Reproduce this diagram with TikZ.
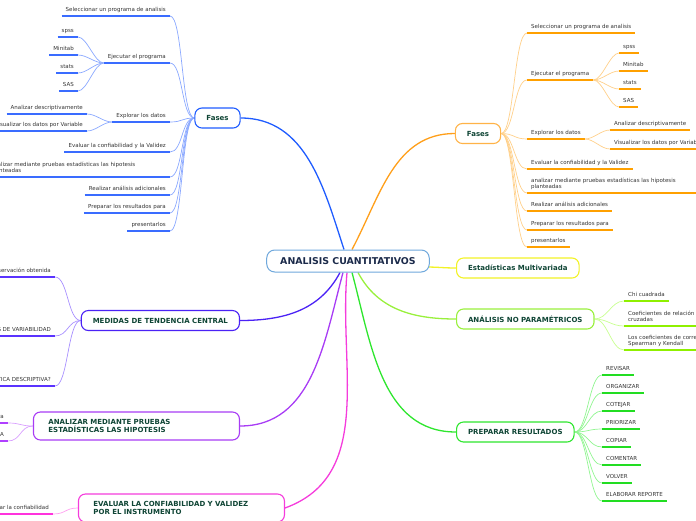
\documentclass[tikz,border=0pt]{standalone}
\usepackage{fontspec}
\setmainfont{DejaVu Sans}
\usetikzlibrary{backgrounds}

\definecolor{rootline}{HTML}{6FA8DC}
\definecolor{roottext}{HTML}{1B2A4A}
\definecolor{topictext}{HTML}{0F4535}
\definecolor{leaftext}{HTML}{333333}
\definecolor{blueA}{HTML}{1F5CFF}
\definecolor{blueB}{HTML}{3A6CFF}
\definecolor{blueC}{HTML}{8AA8FF}
\definecolor{orangeA}{HTML}{FF9F1A}
\definecolor{orangeB}{HTML}{FFA000}
\definecolor{orangeD}{HTML}{FFB347}
\definecolor{orangeC}{HTML}{FFD08A}
\definecolor{yellowA}{HTML}{F2F226}
\definecolor{limeA}{HTML}{99F03C}
\definecolor{limeB}{HTML}{8FF000}
\definecolor{limeC}{HTML}{C8FF90}
\definecolor{greenA}{HTML}{2EE62E}
\definecolor{greenB}{HTML}{22DD22}
\definecolor{greenC}{HTML}{90F590}
\definecolor{violetA}{HTML}{4B22F5}
\definecolor{violetB}{HTML}{5A33FF}
\definecolor{violetC}{HTML}{A890FF}
\definecolor{purpleA}{HTML}{A83CF5}
\definecolor{purpleB}{HTML}{B040FF}
\definecolor{purpleC}{HTML}{D9A0FF}
\definecolor{magentaA}{HTML}{F53CDC}
\definecolor{magentaB}{HTML}{FF33DD}
\definecolor{magentaC}{HTML}{FFA0F0}

\def\leaffont{\fontsize{5.5}{6.5}\selectfont}
\def\topicfont{\fontsize{7}{8.5}\selectfont\bfseries}
\def\rootfont{\fontsize{9.4}{11}\selectfont\bfseries}

\tikzset{
  root/.style={draw=rootline, line width=1pt, rounded corners=8pt, fill=white,
    font=\rootfont, text=roottext, inner xsep=13.5pt, minimum height=22pt},
  topic/.style={draw=#1, line width=1.1pt, rounded corners=7pt, fill=white,
    font=\topicfont, text=topictext, inner xsep=11.5pt, minimum height=20pt},
  widetopic/.style={topic=#1, text width=176pt, align=left, inner xsep=15pt, minimum height=28pt},
  leaf/.style={font=\leaffont, text=leaftext, inner xsep=4pt, inner ysep=2.6pt,
    text height=4.2pt, text depth=1.4pt,
    append after command={(\tikzlastnode.south west) edge[line width=1.4pt, draw=#1] (\tikzlastnode.south east)}},
  wideleaf/.style={leaf=#1, text width=175pt, align=left, text depth=7.9pt},
  branch/.style={line width=1.3pt, draw=#1},
  twig/.style={line width=0.7pt, draw=#1},
}

\begin{document}
\begin{tikzpicture}[x=1pt,y=-1pt]
  \useasboundingbox (0,0) rectangle (696,520);
  % centre and main topics
  \node[root] (root) at (348,261) {ANALISIS CUANTITATIVOS};
  \node[topic=blueA] (fasesL) at (217.5,118) {Fases};
  \node[topic=orangeD] (fasesR) at (478,133.5) {Fases};
  \node[topic=yellowA, anchor=west] (multi) at (456,268) {Estadísticas Multivariada};
  \node[topic=limeA, anchor=west] (noparam) at (456,319) {ANÁLISIS NO PARAMÉTRICOS};
  \node[topic=greenA, anchor=west] (prep) at (456,432) {PREPARAR RESULTADOS};
  \node[topic=violetA, anchor=east] (medidas) at (240,320.5) {MEDIDAS DE TENDENCIA CENTRAL};
  \node[widetopic=purpleA, anchor=east] (hipo) at (240,426) {ANALIZAR MEDIANTE PRUEBAS\\ESTADÍSTICAS LAS HIPOTESIS};
  \node[widetopic=magentaA, anchor=east] (conf) at (285,508) {EVALUAR LA CONFIABILIDAD Y VALIDEZ\\POR EL INSTRUMENTO};

  % fases, left side
  \foreach \n/\y/\t in {1/16/Seleccionar un programa de analisis, 2/63/Ejecutar el programa,
      3/122/Explorar los datos, 4/152/Evaluar la confiabilidad y la Validez,
      6/195/Realizar análisis adicionales, 7/213/Preparar los resultados para, 8/231/presentarlos}
    \node[leaf=blueB, anchor=south east] (bl\n) at (170,\y) {\t};
  \node[wideleaf=blueB, anchor=south east] (bl5) at (170,177) {analizar mediante pruebas estadísticas las hipotesis\\planteadas};
  \foreach \n/\y/\t in {1/37/spss, 2/55/Minitab, 3/73/stats, 4/91/SAS}
    \node[leaf=blueB, anchor=south east] (blp\n) at (78,\y) {\t};
  \node[leaf=blueB, anchor=south east] (ble1) at (87,114) {Analizar descriptivamente};
  \node[leaf=blueB, anchor=south east] (ble2) at (87,131) {Visualizar los datos por Variable};

  % fases, right side
  \foreach \n/\y/\t in {1/33/Seleccionar un programa de analisis, 2/80/Ejecutar el programa,
      3/139/Explorar los datos, 4/169/Evaluar la confiabilidad y la Validez,
      6/211/Realizar análisis adicionales, 7/230/Preparar los resultados para, 8/247/presentarlos}
    \node[leaf=orangeB, anchor=south west] (or\n) at (527,\y) {\t};
  \node[wideleaf=orangeB, anchor=south west] (or5) at (527,193) {analizar mediante pruebas estadísticas las hipotesis\\planteadas};
  \foreach \n/\y/\t in {1/53/spss, 2/71/Minitab, 3/89/stats, 4/107/SAS}
    \node[leaf=orangeB, anchor=south west] (orp\n) at (619,\y) {\t};
  \node[leaf=orangeB, anchor=south west] (ore1) at (610,130) {Analizar descriptivamente};
  \node[leaf=orangeB, anchor=south west] (ore2) at (610,149) {Visualizar los datos por Variable};

  % no parametricos
  \node[leaf=limeB, anchor=south west] (np1) at (624,301) {Chi cuadrada};
  \node[wideleaf=limeB, anchor=south west] (np2) at (624,326) {Coeficientes de relación -\\cruzadas};
  \node[wideleaf=limeB, anchor=south west] (np3) at (624,350) {Los coeficientes de correlación de\\Spearman y Kendall};

  % preparar resultados
  \foreach \n/\y/\t in {1/375/REVISAR, 2/393/ORGANIZAR, 3/411/COTEJAR, 4/429/PRIORIZAR,
      5/447/COPIAR, 6/465/COMENTAR, 7/483/VOLVER, 8/501/ELABORAR REPORTE}
    \node[leaf=greenB, anchor=south west] (pr\n) at (602,\y) {\t};

  % left topics
  \foreach \n/\y/\t in {1/277/observación obtenida, 2/336/MEDIDAS DE VARIABILIDAD,
      3/386/¿QUÉ ES LA ESTADÍSTICA DESCRIPTIVA?}
    \node[leaf=violetB, anchor=south east] (md\n) at (55,\y) {\t};
  \node[leaf=purpleB, anchor=south east] (hp1) at (8,423) {muestra};
  \node[leaf=purpleB, anchor=south east] (hp2) at (8,441) {PRUEBA PARAMÉTRICA};
  \node[leaf=magentaB, anchor=south east] (cf1) at (53,514) {Evaluar la confiabilidad};

  \begin{scope}[on background layer]
    % main branches
    \draw[branch=blueA] ([xshift=-4pt]root.north) to[out=108,in=0] (fasesL.east);
    \draw[branch=orangeA] ([xshift=4pt]root.north) to[out=62,in=180] (fasesR.west);
    \draw[branch=yellowA] ([xshift=-4pt,yshift=-6pt]root.east) to[out=0,in=180] (multi.west);
    \draw[branch=limeA] ([xshift=10pt]root.south) to[out=-62,in=180] (noparam.west);
    \draw[branch=greenA] ([xshift=4pt]root.south) to[out=-75,in=180] (prep.west);
    \draw[branch=violetA] ([xshift=-8pt]root.south) to[out=-118,in=0] (medidas.east);
    \draw[branch=purpleA] ([xshift=-5pt]root.south) to[out=-105,in=0] (hipo.east);
    \draw[branch=magentaA] ([xshift=-1pt]root.south) to[out=-95,in=20] (conf.east);
    % twigs
    \foreach \n in {1,...,8}
      \draw[twig=blueC] (fasesL.west) to[out=180,in=0,distance=13pt] (bl\n.south east);
    \foreach \n in {1,...,4}
      \draw[twig=blueC] (bl2.south west) to[out=180,in=0,distance=9pt] (blp\n.south east);
    \foreach \n in {1,2}
      \draw[twig=blueC] (bl3.south west) to[out=180,in=0,distance=9pt] (ble\n.south east);
    \foreach \n in {1,...,8}
      \draw[twig=orangeC] (fasesR.east) to[out=0,in=180,distance=13pt] (or\n.south west);
    \foreach \n in {1,...,4}
      \draw[twig=orangeC] (or2.south east) to[out=0,in=180,distance=9pt] (orp\n.south west);
    \foreach \n in {1,2}
      \draw[twig=orangeC] (or3.south east) to[out=0,in=180,distance=9pt] (ore\n.south west);
    \foreach \n in {1,2,3}
      \draw[twig=limeC] (noparam.east) to[out=0,in=180,distance=13pt] (np\n.south west);
    \foreach \n in {1,...,8}
      \draw[twig=greenC] (prep.east) to[out=0,in=180,distance=13pt] (pr\n.south west);
    \foreach \n in {1,2,3}
      \draw[twig=violetC] (medidas.west) to[out=180,in=0,distance=13pt] (md\n.south east);
    \foreach \n in {1,2}
      \draw[twig=purpleC] (hipo.west) to[out=180,in=0,distance=13pt] (hp\n.south east);
    \draw[twig=magentaC] (conf.west) to[out=180,in=0,distance=13pt] (cf1.south east);
  \end{scope}
\end{tikzpicture}
\end{document}
